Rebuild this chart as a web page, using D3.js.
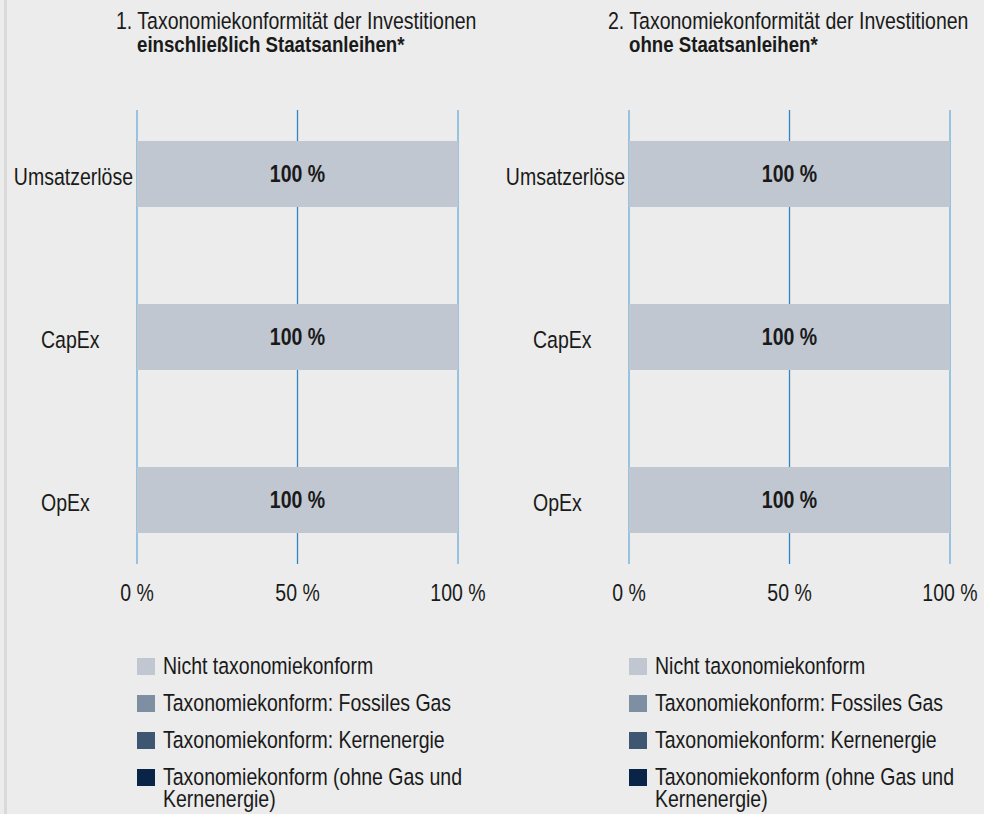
<!DOCTYPE html>
<html>
<head>
<meta charset="utf-8">
<script src="https://cdn.jsdelivr.net/npm/d3@7"></script>
<style>
  body { margin: 0; background: #ebeceb; }
  svg { display: block; }
  text { font-family: "Liberation Sans", Arial, sans-serif; fill: #1a1a1a; }
</style>
</head>
<body>
<script>
// Chart data
const categories = ["Umsatzerlöse", "CapEx", "OpEx"];
const panels = ["1", "2"];
const panelTitles = ["1. Taxonomiekonformität der Investitionen", "2. Taxonomiekonformität der Investitionen"];
const panelSubtitles = ["einschließlich Staatsanleihen*", "ohne Staatsanleihen*"];
const seriesNames = [
  "Nicht taxonomiekonform",
  "Taxonomiekonform: Fossiles Gas",
  "Taxonomiekonform: Kernenergie",
  "Taxonomiekonform (ohne Gas und Kernenergie)"
];
const seriesColors = ["#c0c7d1", "#7f8fa3", "#3f5673", "#0a2447"];
// values per panel, per category: [nicht, gas, kern, ohne]
const valuesPanel1 = [[100, 0, 0, 0], [100, 0, 0, 0], [100, 0, 0, 0]];
const valuesPanel2 = [[100, 0, 0, 0], [100, 0, 0, 0], [100, 0, 0, 0]];
const tickValues = [0, 50, 100];

const width = 984, height = 814;
const narrow = 0.83; // condensed look

const svg = d3.select("body")
  .append("svg")
  .attr("width", width)
  .attr("height", height);

// squeezed text helper
function label(parent, x, y, str, opts = {}) {
  const g = parent.append("g")
    .attr("transform", `translate(${x},${y}) scale(${narrow},1)`);
  const t = g.append("text")
    .attr("text-anchor", opts.anchor || "start")
    .style("font-size", (opts.size || 23.5) + "px")
    .style("font-weight", opts.bold ? "bold" : null)
    .text(str);
  return { g, t };
}

// thin border on the left
svg.append("rect")
  .attr("x", 4).attr("y", 0)
  .attr("width", 3).attr("height", height)
  .attr("fill", "#d9dad9");

const y = d3.scaleBand()
  .domain(categories)
  .range([92.5, 581.5])
  .paddingInner(0.595)
  .paddingOuter(0.2975);

const panelX = [137, 629];
const allValues = [valuesPanel1, valuesPanel2];

panels.forEach((p, pi) => {
  const x = d3.scaleLinear().domain([0, 100]).range([panelX[pi], panelX[pi] + 321]);
  const g = svg.append("g");

  // titles
  label(g, panelX[pi] - 21, 29, panelTitles[pi]);
  label(g, panelX[pi], 52, panelSubtitles[pi], { bold: true, size: 22.5 });

  // gridlines
  g.selectAll("line.grid")
    .data(tickValues)
    .join("line")
    .attr("class", "grid")
    .attr("x1", d => x(d)).attr("x2", d => x(d))
    .attr("y1", 110).attr("y2", 564)
    .attr("stroke", d => d === 50 ? "#2e86c4" : "#6aaedb")
    .attr("stroke-width", 1.3);

  // stacked bars
  const rows = categories.map((c, i) => {
    const row = { cat: c };
    seriesNames.forEach((s, k) => row[s] = allValues[pi][i][k]);
    return row;
  });
  const stacked = d3.stack().keys(seriesNames)(rows);

  g.selectAll("g.series")
    .data(stacked)
    .join("g")
    .attr("fill", (d, k) => seriesColors[k])
    .selectAll("rect")
    .data(d => d)
    .join("rect")
    .attr("x", d => x(d[0]))
    .attr("y", d => y(d.data.cat))
    .attr("width", d => x(d[1]) - x(d[0]))
    .attr("height", y.bandwidth());

  // value labels
  rows.forEach(r => {
    const v = r[seriesNames[0]];
    label(g, x(v / 2), y(r.cat) + y.bandwidth() / 2 + 8, v + " %", { anchor: "middle", bold: true });
  });

  // category labels: start at a fixed column, pushed left if too long
  categories.forEach(c => {
    const startX = panelX[pi] - 96;
    const l = label(g, startX, y(c) + y.bandwidth() / 2 + 10.5, c);
    const w = l.t.node().getComputedTextLength() * narrow;
    if (startX + w > panelX[pi] - 4) {
      l.g.attr("transform", `translate(${panelX[pi] - 4 - w},${y(c) + y.bandwidth() / 2 + 10.5}) scale(${narrow},1)`);
    }
  });

  // x axis tick labels
  tickValues.forEach(d => label(g, x(d), 601, d + " %", { anchor: "middle" }));

  // legend
  const lgY = [658, 695, 732, 769];
  seriesNames.forEach((s, k) => {
    g.append("rect")
      .attr("x", panelX[pi]).attr("y", lgY[k])
      .attr("width", 18).attr("height", 17)
      .attr("fill", seriesColors[k]);
    if (k === 3) {
      label(g, panelX[pi] + 26, lgY[k] + 16, "Taxonomiekonform (ohne Gas und");
      label(g, panelX[pi] + 26, lgY[k] + 38, "Kernenergie)");
    } else {
      label(g, panelX[pi] + 26, lgY[k] + 16, s);
    }
  });
});
</script>
</body>
</html>
